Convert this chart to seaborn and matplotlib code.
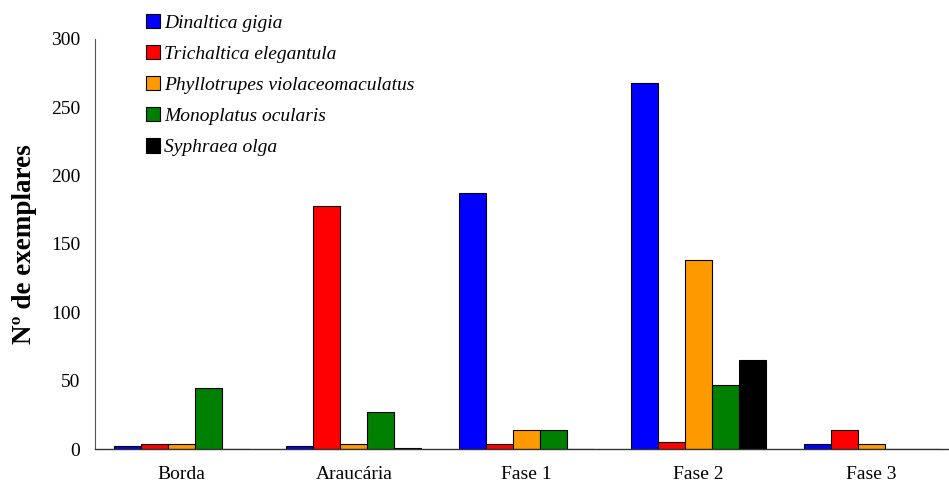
import matplotlib
matplotlib.use("Agg")
import matplotlib.pyplot as plt
import seaborn as sns
import pandas as pd

# data
sites = ["Borda", "Araucária", "Fase 1", "Fase 2", "Fase 3"]
species = ["Dinaltica gigia", "Trichaltica elegantula", "Phyllotrupes violaceomaculatus",
           "Monoplatus ocularis", "Syphraea olga"]
dinaltica = [2, 2, 187, 268, 4]
trichaltica = [4, 178, 4, 5, 14]
phyllotrupes = [4, 4, 14, 138, 4]
monoplatus = [45, 27, 14, 47, 0]
syphraea = [0, 1, 0, 65, 0]
colors = ["#0000ff", "#ff0000", "#ff9900", "#008000", "#000000"]

rows = []
for sp, vals in zip(species, [dinaltica, trichaltica, phyllotrupes, monoplatus, syphraea]):
    for site, v in zip(sites, vals):
        rows.append({"site": site, "species": sp, "n": v})
df = pd.DataFrame(rows)

sns.set_style("white")
plt.rcParams["font.family"] = ["Liberation Serif", "DejaVu Serif"]
plt.rcParams["text.color"] = "black"
plt.rcParams["axes.labelcolor"] = "black"

fig = plt.figure(figsize=(9.49, 4.87), dpi=100)
W, H = 949, 487
ax = fig.add_axes([95 / W, 1 - 449 / H, 862.5 / W, 410 / H])

sns.barplot(data=df, x="site", y="n", hue="species", order=sites, hue_order=species,
            palette=colors, width=0.78, edgecolor="black", linewidth=0.8,
            saturation=1, errorbar=None, ax=ax, legend=True)

ax.set_xlim(-0.5, 4.5)
ax.set_ylim(0, 300)
ax.set_yticks(range(0, 301, 50))
ax.set_xticks(range(len(sites)))
ax.set_xticklabels(sites)
ax.set_xticks([i - 0.5 for i in range(len(sites) + 1)], minor=True)
ax.tick_params(axis="x", which="major", length=0, pad=12, labelsize=14, labelcolor="black")
ax.tick_params(axis="x", which="minor", length=5, width=0.8, color="#555555", direction="out")
ax.tick_params(axis="y", length=4.5, width=0.8, color="#555555", direction="out",
               labelsize=14, pad=6, labelcolor="black")
ax.set_xlabel("")
ax.set_ylabel("Nº de exemplares", fontsize=19.5, fontweight="bold", labelpad=10, color="black")
for s in ["top", "right"]:
    ax.spines[s].set_visible(False)
ax.spines["left"].set_color("#555555")
ax.spines["left"].set_linewidth(0.8)
ax.spines["bottom"].set_color("#333333")
ax.spines["bottom"].set_linewidth(1.0)

handles, labels = ax.get_legend_handles_labels()
ax.get_legend().remove()
fig.legend(handles, labels, loc="upper left", bbox_to_anchor=(138 / W, 1 - 6 / H),
           frameon=False, prop={"style": "italic", "size": 14}, handlelength=0.75,
           handleheight=0.75, handletextpad=0.2, labelspacing=0.68, borderaxespad=0)

fig.savefig("out.png", dpi=100)
